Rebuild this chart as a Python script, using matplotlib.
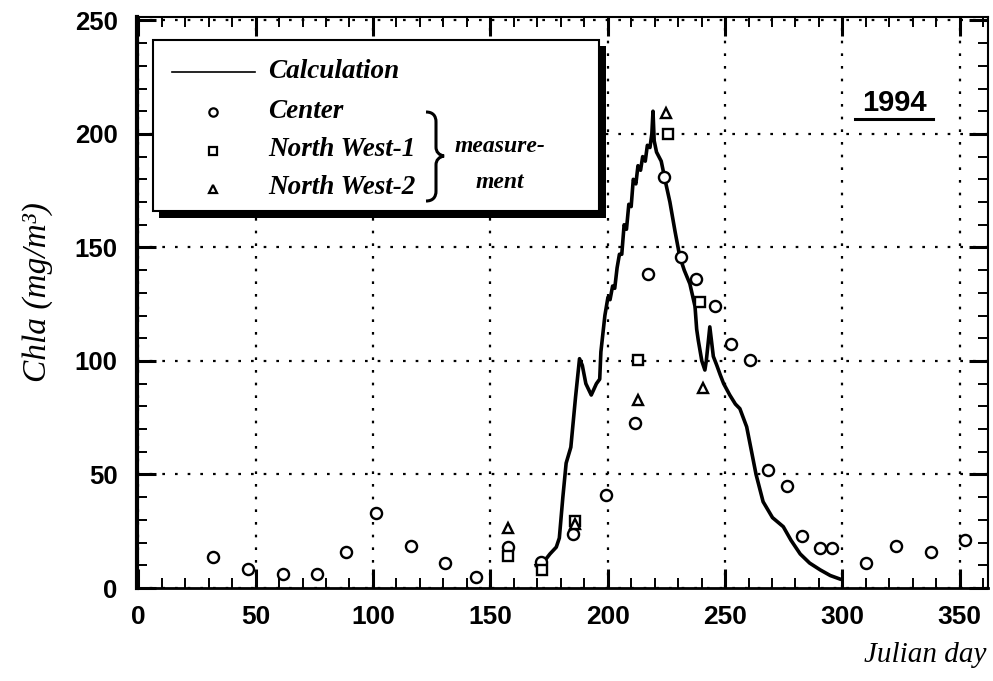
import matplotlib
matplotlib.use("Agg")
import matplotlib.pyplot as plt
from matplotlib.patches import Rectangle, PathPatch
from matplotlib.path import Path
from matplotlib.ticker import MultipleLocator
import numpy as np

# calculated Chla (line)
calc_day = [169.5, 172.4, 175.4, 178.1, 179.4, 180.9, 182.3, 184.3, 186.3, 188.0,
            189.2, 190.7, 193.0, 195.2, 196.6, 197.1, 198.8, 200.1, 201.0, 202.1,
            203.0, 204.0, 205.0, 206.0, 207.0, 208.0, 209.0, 210.0, 210.9, 212.0,
            212.9, 214.0, 214.9, 216.0, 216.9, 218.0, 218.8, 219.3, 219.8, 220.8,
            222.8, 224.8, 226.5, 228.7, 230.7, 232.6, 235.0, 237.2, 237.9, 238.6,
            240.1, 241.4, 242.0, 243.5, 245.0, 246.5, 247.9, 249.4, 252.0, 254.4,
            256.3, 259.2, 261.3, 263.2, 266.2, 270.2, 274.8, 278.1, 282.0, 286.0,
            290.5, 294.8, 298.8]
calc_val = [10, 11, 15, 18, 22, 40, 55, 62, 84, 101,
            98, 90, 85, 90, 92, 104, 120, 128, 127, 133,
            132, 141, 147, 147, 160, 158, 169, 168, 180, 178,
            186, 184, 190, 188, 195, 194, 200, 210, 197, 192,
            188, 178, 170, 157, 146, 140, 134, 124, 114, 109,
            100, 96, 100, 115, 102, 98, 94, 90, 85, 81,
            79, 71, 60, 50, 38, 31, 27, 21, 15, 11,
            8, 5.5, 4]

# measurements
center_day = [32, 46.6, 61.5, 76.2, 88.6, 101.4, 116.3, 130.5, 143.7, 157.5,
              171.7, 185.2, 199.4, 211.5, 217.2, 223.9, 231.4, 237.5, 245.6, 252.5,
              260.6, 268.4, 276.2, 282.6, 290.4, 295.4, 309.9, 322.8, 337.7, 352.2]
center_val = [13.5, 8.5, 6, 6, 16, 33, 18.5, 11, 5, 18,
              11.5, 24, 41, 72.5, 138.5, 181, 146, 136, 124, 107.5,
              100.5, 52, 45, 23, 17.5, 17.5, 11, 18.7, 16, 21]

nw1_day = [157.5, 172.1, 185.9, 212.9, 225.7, 239.2]
nw1_val = [14, 8, 29.5, 100.5, 200, 126]

nw2_day = [157.5, 185.9, 212.9, 224.7, 240.4]
nw2_val = [26.5, 28, 83, 209, 88]

W, H = 993, 681
fig = plt.figure(figsize=(W / 100, H / 100), dpi=100)
ax = fig.add_axes([137 / W, 1 - 588 / H, (988 - 137) / W, (588 - 17) / H])

ax.plot(calc_day, calc_val, color="black", lw=2.6, zorder=3)
mk = dict(ls="none", mfc="white", mec="black", mew=1.7, ms=8, zorder=4)
ax.plot(center_day, center_val, marker="o", **mk)
ax.plot(nw1_day, nw1_val, marker="s", **dict(mk, ms=7))
ax.plot(nw2_day, nw2_val, marker="^", **dict(mk, ms=7))

ax.set_xlim(-0.5, 362)
ax.set_ylim(0, 251.5)
ax.xaxis.set_major_locator(MultipleLocator(50))
ax.xaxis.set_minor_locator(MultipleLocator(10))
ax.yaxis.set_major_locator(MultipleLocator(50))
ax.yaxis.set_minor_locator(MultipleLocator(10))
ax.grid(True, which="major", color="black", lw=1.6, ls=(0, (1.2, 4.5)))
ax.tick_params(which="both", direction="in", top=True, right=True, color="black")
ax.tick_params(which="major", length=14, width=2.2)
ax.tick_params(which="minor", length=7, width=1.4)
ax.tick_params(axis="x", pad=12)
ax.tick_params(axis="y", pad=14)
for lab in ax.get_xticklabels():
    lab.set_family(["Liberation Sans Narrow", "Liberation Sans"])
    lab.set_fontweight("bold")
    lab.set_fontsize(19)
for lab in ax.get_yticklabels():
    lab.set_family("Liberation Sans")
    lab.set_fontweight("bold")
    lab.set_fontsize(18.5)
ax.spines["left"].set_linewidth(3)
ax.spines["bottom"].set_linewidth(2)
ax.spines["right"].set_linewidth(1.5)
ax.spines["top"].set_linewidth(1.5)

# overlay in pixel coordinates for legend and labels
ov = fig.add_axes([0, 0, 1, 1], zorder=10)
ov.set_xlim(0, W)
ov.set_ylim(H, 0)
ov.axis("off")
ov.patch.set_alpha(0)

serif = dict(family="Liberation Serif", style="italic", color="black")

ov.add_patch(Rectangle((159, 46), 447, 172, facecolor="black", edgecolor="none"))
ov.add_patch(Rectangle((153, 40), 446, 171, facecolor="white", edgecolor="black", lw=1.5))
ov.plot([172, 255], [72, 72], color="black", lw=1.2)
ov.plot([213], [112], marker="o", ls="none", mfc="white", mec="black", mew=1.6, ms=6)
ov.plot([213], [151], marker="s", ls="none", mfc="white", mec="black", mew=1.6, ms=6)
ov.plot([213], [189], marker="^", ls="none", mfc="white", mec="black", mew=1.6, ms=6)
leg = dict(fontsize=19.5, fontweight="bold", va="center", **serif)
ov.text(268, 72, "Calculation", **leg)
ov.text(268, 111, "Center", **leg)
ov.text(268, 150, "North West-1", **leg)
ov.text(268, 188, "North West-2", **leg)
ov.text(500, 146, "measure-", fontsize=17, fontweight="bold", va="center", ha="center", **serif)
ov.text(500, 183, "ment", fontsize=17, fontweight="bold", va="center", ha="center", **serif)

# curly brace
verts = [(426, 112), (433, 112), (436, 116), (436, 122),
         (436, 147), (436, 147),
         (436, 152), (439, 155), (444, 156),
         (439, 157), (436, 160), (436, 165),
         (436, 191), (436, 191),
         (436, 197), (433, 201), (426, 201)]
codes = [Path.MOVETO, Path.CURVE4, Path.CURVE4, Path.CURVE4,
         Path.LINETO, Path.LINETO,
         Path.CURVE4, Path.CURVE4, Path.CURVE4,
         Path.CURVE4, Path.CURVE4, Path.CURVE4,
         Path.LINETO, Path.LINETO,
         Path.CURVE4, Path.CURVE4, Path.CURVE4]
ov.add_patch(PathPatch(Path(verts, codes), facecolor="none", edgecolor="black", lw=2.2))

ov.text(894, 103, "1994", fontsize=21, fontweight="bold", family="Liberation Sans",
        ha="center", va="center", color="black")
ov.plot([855, 933], [119, 119], color="black", lw=2.2)

ov.text(38, 292, "Chla (mg/m³)", fontsize=24, rotation=90, ha="center", va="center", **serif)
ov.text(986, 655, "Julian day", fontsize=21, ha="right", va="center", **serif)

fig.savefig("out.png", dpi=100)
